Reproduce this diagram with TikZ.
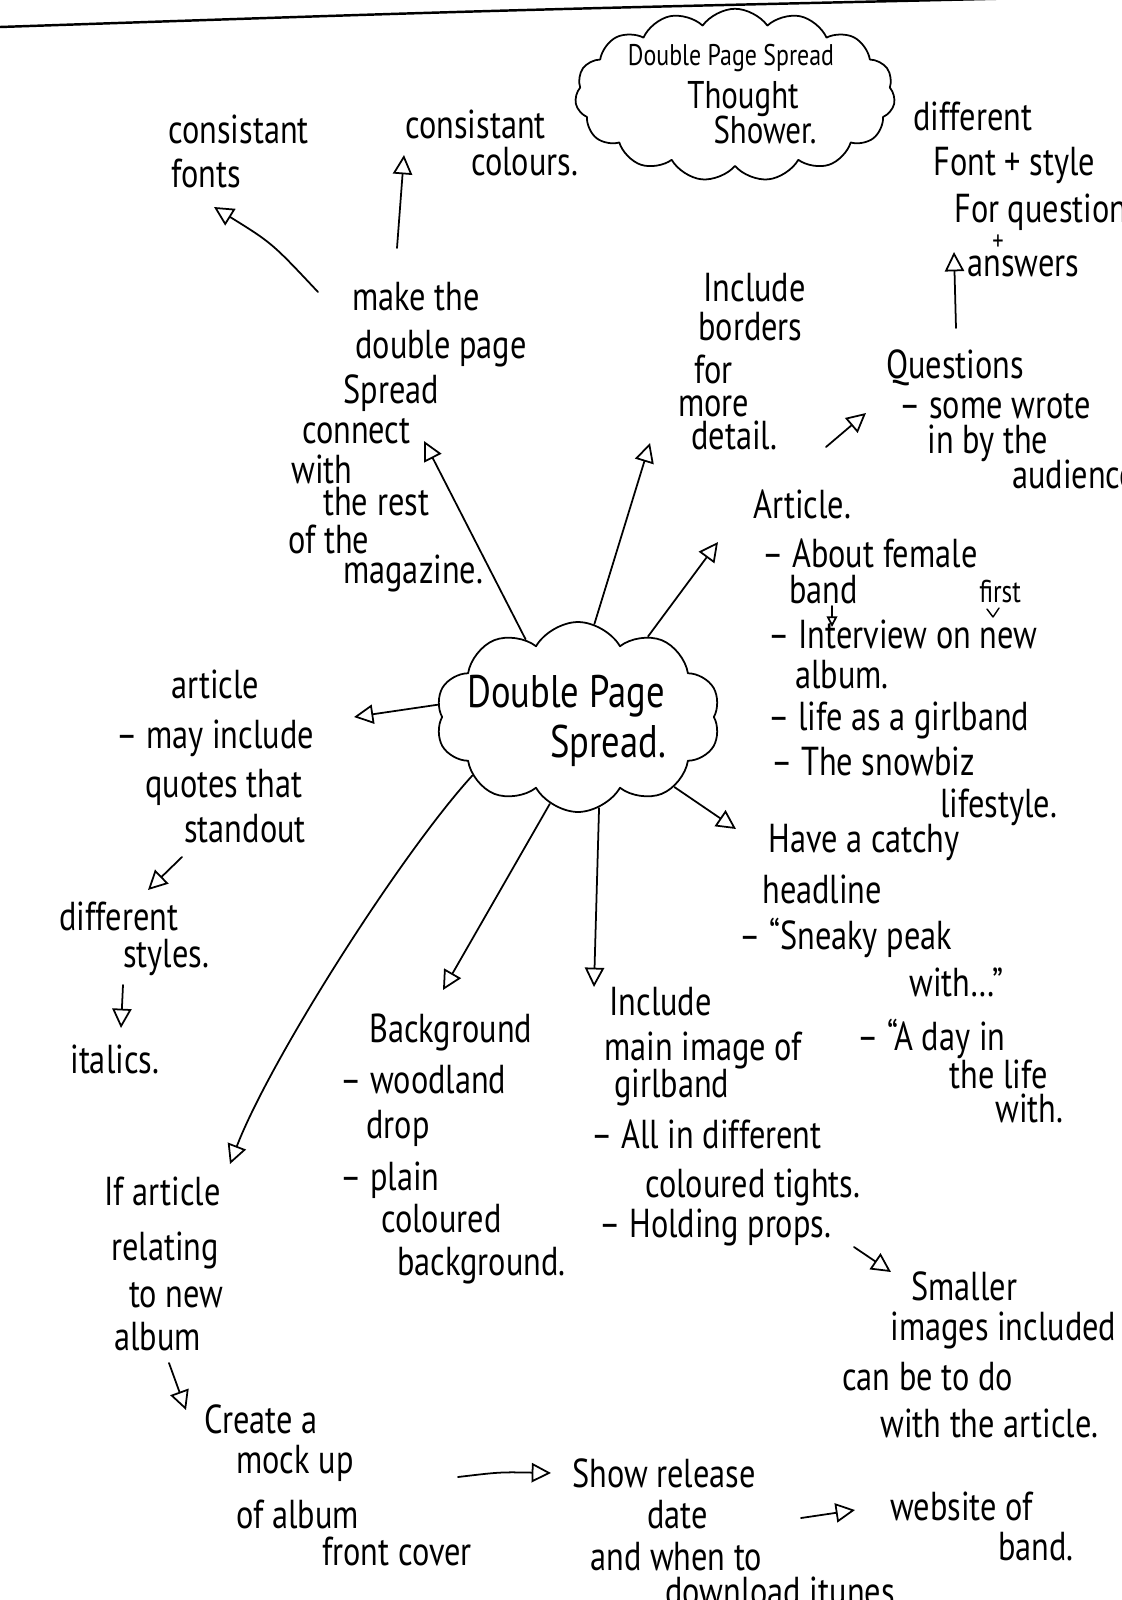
\documentclass[tikz,border=0pt]{standalone}
\usepackage{fontspec}
\setmainfont{PT Sans}[FakeStretch=0.8]
\usetikzlibrary{arrows.meta,shapes.symbols}

\begin{document}
\begin{tikzpicture}[x=0.02cm, y=-0.02cm,
    every node/.style={anchor=base west, inner sep=0pt, font=\fontsize{23}{28}\selectfont},
    smalltxt/.style={font=\fontsize{16}{18}\selectfont},
    ink/.style={line width=1pt, line cap=round, line join=round},
    arr/.style={ink, -{Triangle[open, length=11pt, width=11pt]}},
    puff/.style={draw, ink, cloud, cloud ignores aspect, anchor=center}
]
\fill[white] (0,0) rectangle (1122,1600);
\useasboundingbox (0,0) rectangle (1122,1600);

% edge of the sheet
\draw[ink, line width=1.4pt] (0,27) .. controls (500,10) .. (1030,-2);

% title cloud
\node[puff, cloud puffs=15, cloud puff arc=110, minimum width=6.4cm, minimum height=3.45cm] (title) at (735,95) {};
\node[font=\fontsize{17}{20}\selectfont, anchor=base] (title1) at (731,65) {Double Page Spread};
\node[font=\fontsize{22}{26}\selectfont, anchor=base] (title2) at (743,108) {Thought};
\node[font=\fontsize{22}{26}\selectfont, anchor=base] (title3) at (765,143) {Shower.};

% centre cloud
\node[puff, cloud puffs=10, cloud puff arc=120, minimum width=5.7cm, minimum height=3.8cm] (hub) at (578,717) {};
\node[font=\fontsize{26}{30}\selectfont, anchor=base] (hubA) at (566,707) {Double Page};
\node[font=\fontsize{26}{30}\selectfont, anchor=base] (hubB) at (608,757) {Spread.};

% top left
\node (font1) at (168,143) {consistant};
\node (font2) at (171,187) {fonts};
\node (col1) at (405,138) {consistant};
\node (col2) at (471,175) {colours.};

\node (make1) at (352,310) {make the};
\node (make2) at (355,358) {double page};
\node (make3) at (343,403) {Spread};
\node (make4) at (302,443) {connect};
\node (make5) at (291,483) {with};
\node (make6) at (323,515) {the rest};
\node (make7) at (288,553) {of the};
\node (make8) at (343,583) {magazine.};

% top right
\node (bord1) at (703,301) {Include};
\node (bord2) at (698,340) {borders};
\node (bord3) at (694,383) {for};
\node (bord4) at (678,416) {more};
\node (bord5) at (691,449) {detail.};

\node (diff1) at (913,130) {different};
\node (diff2) at (933,175) {Font + style};
\node (diff3) at (954,222) {For question};
\node[smalltxt, anchor=center] (diff4) at (998,243) {+};
\node (diff5) at (967,276) {answers};

\node (ques1) at (886,378) {Questions};
\node (ques2) at (899,418) {-- some wrote};
\node (ques3) at (927,453) {in by the};
\node (ques4) at (1012,488) {audience};

% right
\node (art1) at (753,518) {Article.};
\node (art2) at (762,567) {-- About female};
\node (art3) at (789,603) {band};
\node[font=\fontsize{18}{20}\selectfont] (first) at (979,602) {first};
\node (art4) at (768,648) {-- Interview on new};
\node (art5) at (795,688) {album.};
\node (art6) at (768,730) {-- life as a girlband};
\node (art7) at (771,775) {-- The snowbiz};
\node (art8) at (940,817) {lifestyle.};

\node (head1) at (768,852) {Have a catchy};
\node (head2) at (762,903) {headline};
\node (head3) at (739,949) {-- ``Sneaky peak};
\node (head4) at (909,996) {with\dots''};
\node (head5) at (857,1050) {-- ``A day in};
\node (head6) at (949,1088) {the life};
\node (head7) at (995,1122) {with.};

% left
\node (quo1) at (171,698) {article};
\node (quo2) at (116,748) {-- may include};
\node (quo3) at (145,797) {quotes that};
\node (quo4) at (184,842) {standout};
\node (sty1) at (59,930) {different};
\node (sty2) at (123,967) {styles.};
\node (ital) at (70,1073) {italics.};

% bottom
\node (back1) at (369,1042) {Background};
\node (back2) at (340,1093) {-- woodland};
\node (back3) at (366,1138) {drop};
\node (back4) at (340,1190) {-- plain};
\node (back5) at (381,1232) {coloured};
\node (back6) at (397,1275) {background.};

\node (img1) at (609,1015) {Include};
\node (img2) at (604,1060) {main image of};
\node (img3) at (614,1097) {girlband};
\node (img4) at (591,1148) {-- All in different};
\node (img5) at (645,1197) {coloured tights.};
\node (img6) at (599,1237) {-- Holding props.};

\node (small1) at (911,1300) {Smaller};
\node (small2) at (890,1340) {images included};
\node (small3) at (842,1390) {can be to do};
\node (small4) at (880,1437) {with the article.};

\node (alb1) at (104,1205) {If article};
\node (alb2) at (111,1260) {relating};
\node (alb3) at (129,1307) {to new};
\node (alb4) at (114,1350) {album};

\node (mock1) at (204,1433) {Create a};
\node (mock2) at (236,1473) {mock up};
\node (mock3) at (236,1528) {of album};
\node (mock4) at (322,1565) {front cover};

\node (rel1) at (572,1487) {Show release};
\node (rel2) at (647,1528) {date};
\node (rel3) at (590,1570) {and when to};
\node (rel4) at (665,1605) {download itunes.};

\node (web1) at (890,1520) {website of};
\node (web2) at (998,1560) {band.};

% free ends of the arrows
\coordinate (fontsTail) at (318,292);  \coordinate (fontsTip) at (214,207);
\coordinate (colTail) at (397,248);    \coordinate (colTip) at (404,155);
\coordinate (makeTip) at (424,441);
\coordinate (bordTip) at (650,443);
\coordinate (artTip) at (718,542);
\coordinate (quesTail) at (826,447);   \coordinate (quesTip) at (866,413);
\coordinate (diffTail) at (956,328);   \coordinate (diffTip) at (954,252);
\coordinate (quoTip) at (354,717);
\coordinate (styTail) at (182,857);    \coordinate (styTip) at (148,890);
\coordinate (italTail) at (123,985);   \coordinate (italTip) at (121,1028);
\coordinate (backTip) at (443,990);
\coordinate (imgTip) at (594,987);
\coordinate (headTip) at (736,829);
\coordinate (albTip) at (230,1164);
\coordinate (smallTail) at (854,1247); \coordinate (smallTip) at (891,1272);
\coordinate (mockTail) at (169,1363);  \coordinate (mockTip) at (186,1410);
\coordinate (relTail) at (458,1477);   \coordinate (relTip) at (551,1473);
\coordinate (webTail) at (801,1518);   \coordinate (webTip) at (855,1510);
\coordinate (bandTail) at (832,606);   \coordinate (bandTip) at (832,627);

% arrows out of the centre cloud
\draw[arr] (hub.124) -- (makeTip);
\draw[arr] (hub.80)  -- (bordTip);
\draw[arr] (hub.49)  -- (artTip);
\draw[arr] (hub.175) -- (quoTip);
\draw[arr] (hub.209) .. controls (400,855) and (270,1060) .. (albTip);
\draw[arr] (hub.252) -- (backTip);
\draw[arr] (hub.283) -- (imgTip);
\draw[arr] (hub.324) -- (headTip);

% arrows between the notes
\draw[arr] (fontsTail) .. controls (272,243) .. (fontsTip);
\draw[arr] (colTail) -- (colTip);
\draw[arr] (quesTail) -- (quesTip);
\draw[arr] (diffTail) -- (diffTip);
\draw[arr] (styTail) -- (styTip);
\draw[arr] (italTail) -- (italTip);
\draw[arr] (smallTail) -- (smallTip);
\draw[arr] (mockTail) -- (mockTip);
\draw[arr] (relTail) .. controls (500,1472) .. (relTip);
\draw[arr] (webTail) -- (webTip);
\draw[ink, -{Triangle[open, length=6pt, width=6pt]}] (bandTail) -- (bandTip);

% insertion mark under "first"
\draw[ink, line width=0.8pt] (987,609) -- (993,617) -- (999,608);
\end{tikzpicture}
\end{document}
